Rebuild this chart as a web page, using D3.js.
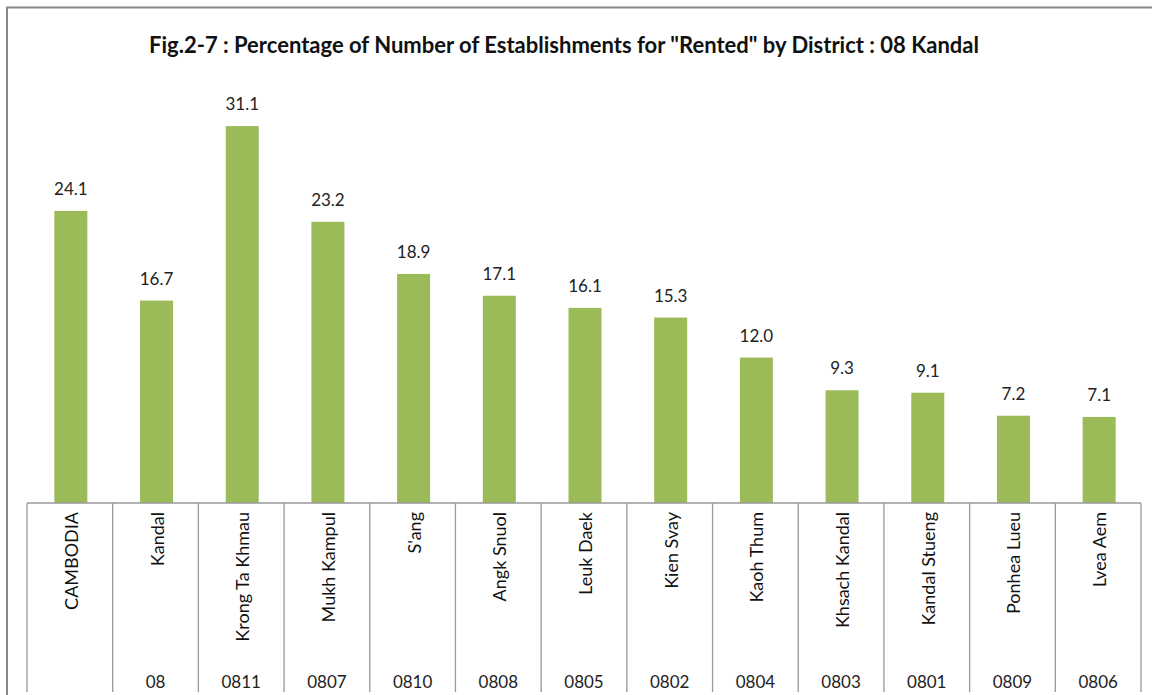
<!DOCTYPE html>
<html>
<head>
<meta charset="utf-8">
<script src="https://cdn.jsdelivr.net/npm/d3@7"></script>
<style>
  body { margin: 0; background: #fff; }
  svg text { font-family: Lato, "Open Sans", sans-serif; }
</style>
</head>
<body>
<div id="chart-area"></div>
<script>
const districts = ["CAMBODIA", "Kandal", "Krong Ta Khmau", "Mukh Kampul", "S'ang", "Angk Snuol",
    "Leuk Daek", "Kien Svay", "Kaoh Thum", "Khsach Kandal", "Kandal Stueng", "Ponhea Lueu", "Lvea Aem"];
const codes = ["", "08", "0811", "0807", "0810", "0808", "0805", "0802", "0804", "0803", "0801", "0809", "0806"];
const rented = [24.1, 16.7, 31.1, 23.2, 18.9, 17.1, 16.1, 15.3, 12.0, 9.3, 9.1, 7.2, 7.1];
const titleText = 'Fig.2-7 : Percentage of Number of Establishments for "Rented" by District : 08 Kandal';

const width = 1152, height = 695;
const left = 27, right = 1141, axisY = 503, bottom = 692;

const svg = d3.select("#chart-area").append("svg")
    .attr("width", width)
    .attr("height", height);

// outer frame
svg.append("path")
    .attr("d", `M7,${height} V7.5 H${width}`)
    .attr("fill", "none")
    .attr("stroke", "#888")
    .attr("stroke-width", 2);

svg.append("text")
    .attr("x", 564)
    .attr("y", 53)
    .attr("text-anchor", "middle")
    .style("font-size", "22px")
    .style("font-weight", "bold")
    .style("fill", "#111")
    .text(titleText);

const x = d3.scaleBand()
    .domain(districts)
    .range([left, right]);

const y = d3.scaleLinear()
    .domain([0, 35])
    .range([axisY, axisY - 35 * 12.12]);

const barW = 33;

svg.selectAll(".bar")
    .data(rented)
    .enter()
    .append("rect")
    .attr("class", "bar")
    .attr("x", (d, i) => x(districts[i]) + x.bandwidth() / 2 - barW / 2 + 1)
    .attr("y", d => y(d))
    .attr("width", barW)
    .attr("height", d => axisY - y(d))
    .attr("fill", "#9bbb59");

svg.selectAll(".val")
    .data(rented)
    .enter()
    .append("text")
    .attr("class", "val")
    .attr("x", (d, i) => x(districts[i]) + x.bandwidth() / 2 + 1)
    .attr("y", d => y(d) - 16)
    .attr("text-anchor", "middle")
    .style("font-size", "17px")
    .style("fill", "#222")
    .text(d => d.toFixed(1));

// axis line and category separators
svg.append("line")
    .attr("x1", left).attr("x2", right)
    .attr("y1", axisY).attr("y2", axisY)
    .attr("stroke", "#999").attr("stroke-width", 1.3);

const seps = districts.map(d => x(d)).concat([right]);
svg.selectAll(".sep")
    .data(seps)
    .enter()
    .append("line")
    .attr("class", "sep")
    .attr("x1", d => d).attr("x2", d => d)
    .attr("y1", axisY).attr("y2", bottom)
    .attr("stroke", "#999").attr("stroke-width", 1.3);

svg.selectAll(".name")
    .data(districts)
    .enter()
    .append("text")
    .attr("class", "name")
    .attr("transform", d => `translate(${x(d) + x.bandwidth() / 2 + 8},512) rotate(-90)`)
    .attr("text-anchor", "end")
    .style("font-size", "18px")
    .style("fill", "#111")
    .text(d => d);

svg.selectAll(".code")
    .data(codes)
    .enter()
    .append("text")
    .attr("class", "code")
    .attr("x", (d, i) => x(districts[i]) + x.bandwidth() / 2)
    .attr("y", 688)
    .attr("text-anchor", "middle")
    .style("font-size", "17px")
    .style("fill", "#222")
    .text(d => d);
</script>
</body>
</html>
